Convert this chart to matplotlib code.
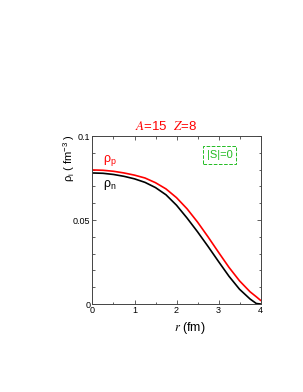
import matplotlib
matplotlib.use('Agg')
import matplotlib.pyplot as plt
from matplotlib.ticker import MultipleLocator

# density profiles (fm^-3)
r = [0.0, 0.25, 0.5, 0.75, 1.0, 1.25, 1.5, 1.75, 2.0, 2.25, 2.5, 2.75, 3.0, 3.25, 3.5, 3.75, 3.9, 4.0]
rho_p = [0.0798, 0.0796, 0.0790, 0.0780, 0.0767, 0.0750, 0.0722, 0.0685, 0.0633, 0.0567, 0.0488, 0.0400,
         0.0308, 0.0218, 0.0138, 0.0073, 0.0043, 0.0022]
rho_n = [0.0780, 0.0778, 0.0771, 0.0760, 0.0745, 0.0724, 0.0693, 0.0650, 0.0588, 0.0512, 0.0430, 0.0343,
         0.0253, 0.0165, 0.0088, 0.0030, 0.0003, 0.0]

W, H = 303, 392
plt.rcParams['font.family'] = ['Liberation Sans', 'DejaVu Sans']
plt.rcParams['mathtext.fontset'] = 'custom'
plt.rcParams['mathtext.rm'] = 'Liberation Sans'
plt.rcParams['mathtext.it'] = 'Liberation Sans'

fig = plt.figure(figsize=(W / 100, H / 100), dpi=100)
ax = fig.add_axes([92.5 / W, 1 - 304 / H, 168 / W, 168 / H])

ax.plot(r, rho_n, color='black', lw=1.2)
ax.plot(r, rho_p, color='red', lw=1.2)

ax.set_xlim(0, 4)
ax.set_ylim(0, 0.1)
ax.xaxis.set_major_locator(MultipleLocator(1))
ax.xaxis.set_minor_locator(MultipleLocator(0.5))
ax.yaxis.set_minor_locator(MultipleLocator(0.01))
ax.set_yticks([0, 0.05, 0.1])
ax.set_yticklabels(['0', '0.05', '0.1'])
ax.tick_params(which='both', direction='in', top=True, right=True, width=0.6, color='#444444',
               labelsize=6.5, pad=1.5)
ax.tick_params(which='major', length=3)
ax.tick_params(which='minor', length=1.8)
for s in ax.spines.values():
    s.set_linewidth(0.7)
    s.set_color('#444444')

def fx(x):
    return x / W

def fy(y):
    return 1 - y / H

fig.text(fx(166), fy(126.5), '$A$=15  $Z$=8', color='red', fontsize=9.5,
         ha='center', va='center', math_fontfamily='stix')
fig.text(fx(190), fy(328), '$r$ (fm)', fontsize=9, ha='center', va='center',
         math_fontfamily='stix')
fig.text(fx(69), fy(158), r'$\rho_{\rm i}$ ( fm$^{-3}$ )', fontsize=8, ha='center', va='center',
         rotation=90)
fig.text(fx(103), fy(161), r'$\rho_{\rm p}$', color='red', fontsize=9, ha='left', va='center')
fig.text(fx(103), fy(185), r'$\rho_{\rm n}$', color='black', fontsize=9, ha='left', va='center')
fig.text(fx(219.5), fy(155), '|S|=0', color='#22bb22', fontsize=8, ha='center', va='center',
         bbox=dict(boxstyle='square,pad=0.35', fc='white', ec='#22bb22', ls='--', lw=0.7))

fig.savefig('out.png', dpi=100)
